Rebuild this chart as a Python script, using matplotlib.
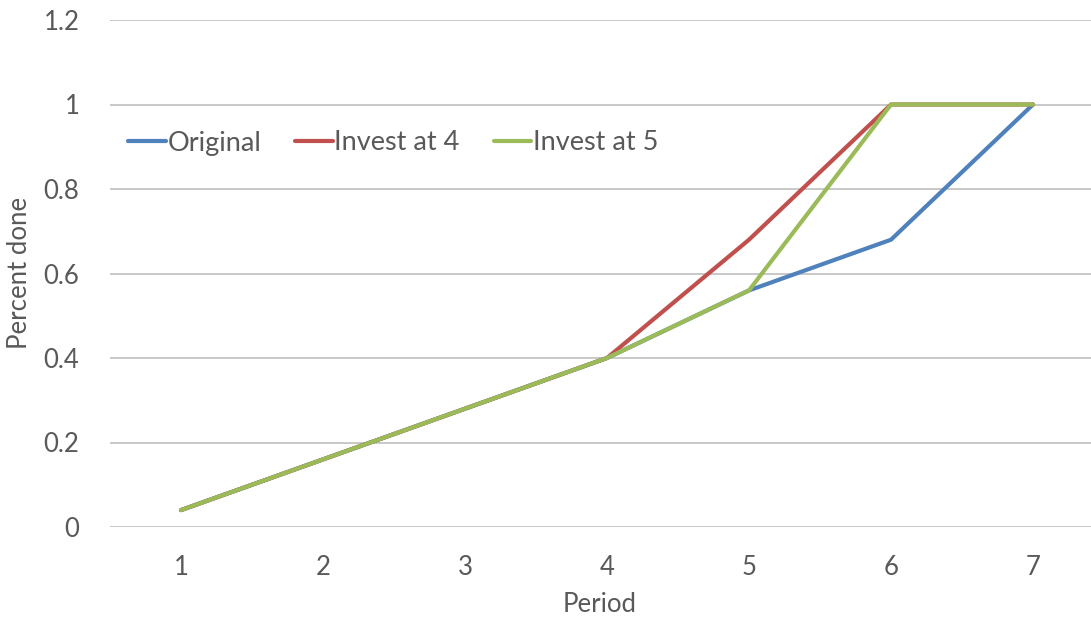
import matplotlib.pyplot as plt

# Data
periods = [1, 2, 3, 4, 5, 6, 7]
original = [0.04, 0.16, 0.28, 0.40, 0.56, 0.68, 1.0]
invest_at_4 = [0.04, 0.16, 0.28, 0.40, 0.68, 1.0, 1.0]
invest_at_5 = [0.04, 0.16, 0.28, 0.40, 0.56, 1.0, 1.0]
y_ticks = [0, 0.2, 0.4, 0.6, 0.8, 1.0, 1.2]
y_tick_labels = ['0', '0.2', '0.4', '0.6', '0.8', '1', '1.2']

plt.rcParams['font.family'] = ['Lato', 'DejaVu Sans']
text_color = '#595959'
fs = 18.5

fig = plt.figure(figsize=(10.91, 6.21), dpi=100)
W, H = 1091, 621
ax = fig.add_axes([110 / W, 1 - 527 / H, (W - 110) / W, (527 - 20) / H])

ax.plot(periods, original, color='#4F81BD', lw=3, label='Original', solid_capstyle='round')
ax.plot(periods, invest_at_4, color='#C0504D', lw=3, label='Invest at 4', solid_capstyle='round')
ax.plot(periods, invest_at_5, color='#9BBB59', lw=3, label='Invest at 5', solid_capstyle='round')

ax.set_xlim(0.5, 0.5 + (W - 110) / 142)
ax.set_ylim(0, 1.2)
ax.set_yticks(y_ticks)
ax.set_yticklabels(y_tick_labels)
ax.set_xticks(periods)

# Grid lines
for y in y_ticks:
    ax.axhline(y, color='#BFBFBF', lw=1.2, zorder=0)

for s in ax.spines.values():
    s.set_visible(False)
ax.tick_params(length=0, labelsize=fs, colors=text_color)
ax.tick_params(axis='y', pad=22)
ax.tick_params(axis='x', pad=20)

# Axis titles placed in figure pixels
fig.text(600 / W, 1 - 605 / H, 'Period', fontsize=fs, color=text_color,
         ha='center', va='center')
fig.text(20 / W, 1 - 273 / H, 'Percent done', fontsize=fs, color=text_color,
         ha='center', va='center', rotation=90)

ax.legend(loc='center left', bbox_to_anchor=(128 / W, 1 - 143 / H),
          bbox_transform=fig.transFigure, ncol=3, frameon=False,
          fontsize=19.5, labelcolor=text_color, handlelength=1.4, handletextpad=0.05,
          columnspacing=1.25, borderaxespad=0, borderpad=0)

fig.savefig('out.png', dpi=100)
